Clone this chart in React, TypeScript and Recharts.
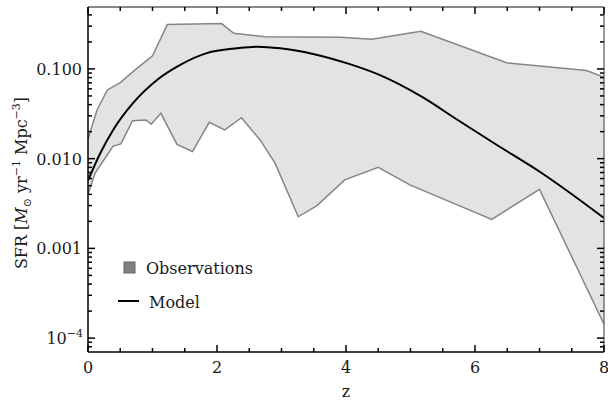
import { ComposedChart, Area, Line, XAxis, YAxis } from "recharts";

// observed band, upper edge
const upperZ = [0, 0.14, 0.3, 0.5, 0.73, 1.0, 1.23, 2.07, 2.26, 2.74, 3.91, 4.4, 5.16, 6.49, 7.73, 8];
const upperSfr = [0.0166, 0.0349, 0.0583, 0.0703, 0.0975, 0.14, 0.312, 0.32, 0.25, 0.229, 0.226, 0.214, 0.263, 0.117, 0.0958, 0.0808];

// observed band, lower edge
const lowerZ = [0, 0.11, 0.39, 0.51, 0.69, 0.9, 0.98, 1.13, 1.38, 1.62, 1.88, 2.12, 2.38, 2.67, 2.9, 3.26, 3.55, 3.98, 4.5, 4.99, 6.26, 7.0, 8];
const lowerSfr = [0.004, 0.0069, 0.0138, 0.0146, 0.0265, 0.027, 0.0242, 0.032, 0.0144, 0.012, 0.0254, 0.0209, 0.0286, 0.0161, 0.0089, 0.00225, 0.003, 0.0058, 0.008, 0.0051, 0.0021, 0.00455, 0.000143];

// model curve
const modelZ = [0, 0.19, 0.39, 0.7, 1.07, 1.43, 1.84, 2.31, 2.62, 2.98, 3.49, 4.06, 4.5, 5.18, 5.72, 6.34, 7.01, 8];
const modelSfr = [0.0057, 0.0115, 0.0209, 0.0418, 0.0754, 0.111, 0.15, 0.17, 0.177, 0.17, 0.147, 0.113, 0.0868, 0.0487, 0.0273, 0.0142, 0.0071, 0.00218];

const xTicks = [0, 0.5, 1, 1.5, 2, 2.5, 3, 3.5, 4, 4.5, 5, 5.5, 6, 6.5, 7, 7.5, 8];
const yTicks = [
  8e-5, 9e-5,
  1e-4, 2e-4, 3e-4, 4e-4, 5e-4, 6e-4, 7e-4, 8e-4, 9e-4,
  0.001, 0.002, 0.003, 0.004, 0.005, 0.006, 0.007, 0.008, 0.009,
  0.01, 0.02, 0.03, 0.04, 0.05, 0.06, 0.07, 0.08, 0.09,
  0.1, 0.2, 0.3, 0.4,
];
const yLabels: Record<string, string> = { "0.001": "0.001", "0.01": "0.010", "0.1": "0.100" };

const Y_MIN = 7e-5;
const Y_MAX = 0.49;
const W = 608;
const H = 407;
const FONT = "'DejaVu Serif', serif";
const TEXT = "#1a1a1a";
const TICK_COLOR = "#000";
const MAJOR = 7;
const MINOR = 4;

type Row = { z: number; hi?: number; lo?: number; model?: number };

const rows: Row[] = [
  ...upperZ.map((z, i) => ({ z, hi: upperSfr[i] })),
  ...lowerZ.map((z, i) => ({ z, lo: lowerSfr[i] })),
  ...modelZ.map((z, i) => ({ z, model: modelSfr[i] })),
].sort((a, b) => a.z - b.z);

const isDecade = (v: number) => Math.abs(Math.log10(v) - Math.round(Math.log10(v))) < 1e-6;

function BottomTick(props: any) {
  const { x, y, payload } = props;
  const major = payload.value % 2 === 0;
  return (
    <g>
      <line x1={x} y1={y} x2={x} y2={y - (major ? MAJOR : MINOR)} stroke={TICK_COLOR} strokeWidth={1.5} />
      {major && (
        <text x={x} y={y + 21} textAnchor="middle" fontSize={16} fill={TEXT} fontFamily={FONT}>
          {payload.value}
        </text>
      )}
    </g>
  );
}

function TopTick(props: any) {
  const { x, y, payload } = props;
  const major = payload.value % 2 === 0;
  return (
    <g>
      <line x1={x} y1={y} x2={x} y2={y + (major ? MAJOR : MINOR)} stroke={TICK_COLOR} strokeWidth={1.5} />
    </g>
  );
}

function LeftTick(props: any) {
  const { x, y, payload } = props;
  const v = payload.value;
  const major = isDecade(v);
  const label = yLabels[String(v)];
  return (
    <g>
      <line x1={x} y1={y} x2={x + (major ? MAJOR : MINOR)} y2={y} stroke={TICK_COLOR} strokeWidth={1.5} />
      {label && (
        <text x={x - 6} y={y + 6} textAnchor="end" fontSize={16} fill={TEXT} fontFamily={FONT}>
          {label}
        </text>
      )}
      {v === 1e-4 && (
        <text x={x - 5} y={y + 6} textAnchor="end" fontSize={16} fill={TEXT} fontFamily={FONT}>
          10<tspan dy={-7} fontSize={11}>−4</tspan>
        </text>
      )}
    </g>
  );
}

function RightTick(props: any) {
  const { x, y, payload } = props;
  const major = isDecade(payload.value);
  return (
    <g>
      <line x1={x} y1={y} x2={x - (major ? MAJOR : MINOR)} y2={y} stroke={TICK_COLOR} strokeWidth={1.5} />
    </g>
  );
}

const layer = { position: "absolute" as const, left: 0, top: 0 };

export default function App() {
  return (
    <div style={{ position: "absolute", left: 0, top: 0, width: W, height: H, background: "#fff" }}>
      {/* band: upper area filled grey, lower area filled white on top */}
      <div style={layer}>
        <ComposedChart width={W} height={H} data={rows} margin={{ top: 7, right: 4, bottom: 55, left: 88 }}>
          <XAxis dataKey="z" type="number" domain={[0, 8]} hide allowDataOverflow />
          <YAxis type="number" scale="log" domain={[Y_MIN, Y_MAX]} hide allowDataOverflow />
          <Area
            type="linear"
            dataKey="hi"
            connectNulls
            baseValue={Y_MIN}
            stroke="#858585"
            strokeWidth={1.5}
            fill="#e3e3e3"
            fillOpacity={1}
            isAnimationActive={false}
          />
          <Area
            type="linear"
            dataKey="lo"
            connectNulls
            baseValue={Y_MIN}
            stroke="#858585"
            strokeWidth={1.5}
            fill="#ffffff"
            fillOpacity={1}
            isAnimationActive={false}
          />
        </ComposedChart>
      </div>

      {/* frame, inward ticks and model line */}
      <div style={layer}>
        <ComposedChart width={W} height={H} data={rows} margin={{ top: 6, right: 3, bottom: 0, left: 0 }}>
          <Line
            type="monotone"
            dataKey="model"
            connectNulls
            stroke="#000"
            strokeWidth={2}
            dot={false}
            isAnimationActive={false}
          />
          <XAxis
            dataKey="z"
            type="number"
            domain={[0, 8]}
            ticks={xTicks}
            interval={0}
            height={55}
            tickSize={0}
            tickMargin={0}
            tickLine={false}
            tick={BottomTick}
            axisLine={{ stroke: "#000", strokeWidth: 1.5 }}
            allowDataOverflow
          />
          <XAxis
            xAxisId="top"
            orientation="top"
            dataKey="z"
            type="number"
            domain={[0, 8]}
            ticks={xTicks}
            interval={0}
            height={1}
            tickSize={0}
            tickMargin={0}
            tickLine={false}
            tick={TopTick}
            axisLine={{ stroke: "#111", strokeWidth: 1.2 }}
            allowDataOverflow
          />
          <YAxis
            type="number"
            scale="log"
            domain={[Y_MIN, Y_MAX]}
            ticks={yTicks}
            interval={0}
            width={88}
            tickSize={0}
            tickMargin={0}
            tickLine={false}
            tick={LeftTick}
            axisLine={{ stroke: "#000", strokeWidth: 1.5 }}
            allowDataOverflow
          />
          <YAxis
            yAxisId="right"
            orientation="right"
            type="number"
            scale="log"
            domain={[Y_MIN, Y_MAX]}
            ticks={yTicks}
            interval={0}
            width={1}
            tickSize={0}
            tickMargin={0}
            tickLine={false}
            tick={RightTick}
            axisLine={{ stroke: "#555", strokeWidth: 1.2 }}
            allowDataOverflow
          />
        </ComposedChart>
      </div>

      <svg width={W} height={H} style={{ ...layer, pointerEvents: "none" }} fontFamily={FONT} fill={TEXT}>
        <text transform="translate(27,183) rotate(-90)" textAnchor="middle" fontSize={16}>
          SFR [<tspan fontStyle="italic">M</tspan>
          <tspan dy={4} fontSize={11}>⊙</tspan>
          <tspan dy={-4}> yr</tspan>
          <tspan dy={-7} fontSize={11}>−1</tspan>
          <tspan dy={7}> Mpc</tspan>
          <tspan dy={-7} fontSize={11}>−3</tspan>
          <tspan dy={7}>]</tspan>
        </text>
        <text x={346} y={397} textAnchor="middle" fontSize={16}>
          z
        </text>
        <rect x={124} y={262} width={11} height={11} fill="#808080" stroke="#666" strokeWidth={1} />
        <text x={146} y={274} fontSize={16}>
          Observations
        </text>
        <line x1={118} y1={301} x2={139} y2={301} stroke="#000" strokeWidth={2} />
        <text x={149} y={308} fontSize={16}>
          Model
        </text>
      </svg>
    </div>
  );
}
